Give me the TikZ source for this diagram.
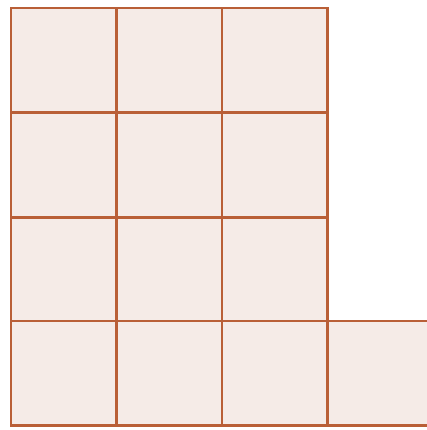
\documentclass[tikz,border=0pt]{standalone}
\definecolor{cellfill}{RGB}{245,235,231}
\definecolor{cellline}{RGB}{185,95,55}
\tikzset{cell/.style={draw=cellline, fill=cellfill, line width=1.8pt}}
\begin{document}
\begin{tikzpicture}[x=0.75pt,y=-0.75pt]
\useasboundingbox (0,0) rectangle (427,430);
\clip (0,0) rectangle (427,430);
\foreach \c/\x in {0/11,1/116.5,2/222} {
  \foreach \r/\y in {0/8,1/112.5,2/217.5,3/321} {
    \pgfmathsetmacro\xe{\x+105.5}
    \pgfmathsetmacro\ye{\y+104.5}
    \path[cell] (\x,\y) rectangle (\xe,\ye);
  }
}
\path[cell] (327.5,321) rectangle (428.5,425.5);
\end{tikzpicture}
\end{document}
